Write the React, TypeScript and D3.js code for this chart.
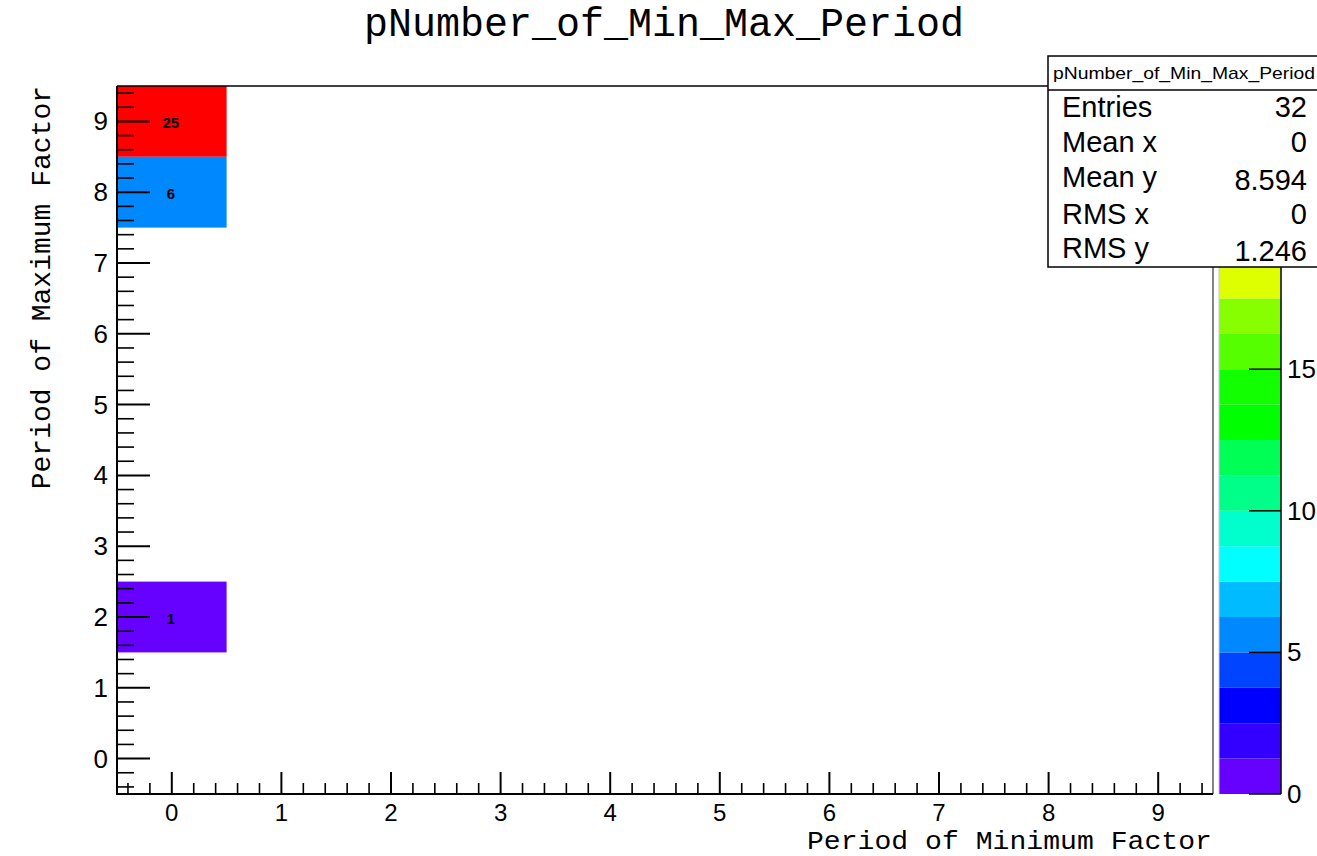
import * as d3 from 'd3';

// histogram bins (x = period of min factor, y = period of max factor)
const binX = [0, 0, 0];
const binY = [9, 8, 2];
const binCount = [25, 6, 1];

const xTicks = [0, 1, 2, 3, 4, 5, 6, 7, 8, 9];
const yTicks = [0, 1, 2, 3, 4, 5, 6, 7, 8, 9];
// 20 and 25 sit under the stats box in the original, so only these show
const zTicks = [0, 5, 10, 15];

// 20 contour levels, bottom to top
const paletteColors = [
  '#6600ff', '#3300ff', '#0000ff', '#0044ff', '#0088ff',
  '#00bbff', '#00ffff', '#00ffcc', '#00ff88', '#00ff55',
  '#00ff00', '#11ff00', '#55ff00', '#88ff00', '#ddff00',
  '#ffff00', '#ffcc00', '#ff9900', '#ff5500', '#ff0000',
];

const statsLabels = ['Entries', 'Mean x', 'Mean y', 'RMS x', 'RMS y'];
const statsValues = ['32', '0', '8.594', '0', '1.246'];

const W = 1317;
const H = 856;
const FRAME = { left: 117, right: 1213, top: 86, bottom: 794 };
const PAL = { left: 1219, right: 1281 };
const SANS = 'Liberation Sans, Arial, Helvetica, sans-serif';
const MONO = 'Liberation Mono, Courier New, monospace';

export default function App() {
  const x = d3.scaleLinear().domain([-0.5, 9.5]).range([FRAME.left, FRAME.right]);
  const y = d3.scaleLinear().domain([-0.5, 9.5]).range([FRAME.bottom, FRAME.top]);
  const z = d3.scaleLinear().domain([0, 25]).range([FRAME.bottom, FRAME.top]);
  const color = d3.scaleQuantize<string>().domain([0, 25]).range(paletteColors);

  const minor = d3.range(-0.4, 9.5, 0.2).filter((v) => Math.abs(v - Math.round(v)) > 0.01);
  const step = 25 / paletteColors.length;

  const statRowsY = [107, 142, 177, 214, 248];

  return (
    <svg
      width={W}
      height={H}
      viewBox={`0 0 ${W} ${H}`}
      style={{ position: 'absolute', left: 0, top: 0, background: '#fff' }}
    >
      <rect x={0} y={0} width={W} height={H} fill="#fff" />

      {/* title */}
      <text x={664} y={36} textAnchor="middle" fontFamily={MONO} fontSize={40}>
        pNumber_of_Min_Max_Period
      </text>

      {/* cells */}
      {binCount.map((c, i) => (
        <g key={i}>
          <rect
            x={x(binX[i] - 0.5)}
            y={y(binY[i] + 0.5)}
            width={x(binX[i] + 0.5) - x(binX[i] - 0.5)}
            height={y(binY[i] - 0.5) - y(binY[i] + 0.5)}
            fill={color(Math.min(c, 24.99))}
          />
          <text
            x={x(binX[i]) - 1}
            y={y(binY[i]) + 1}
            textAnchor="middle"
            dominantBaseline="central"
            fontFamily={SANS}
            fontWeight="bold"
            fontSize={15}
          >
            {c}
          </text>
        </g>
      ))}

      {/* frame */}
      <line x1={FRAME.left} x2={FRAME.right} y1={FRAME.top} y2={FRAME.top} stroke="#000" strokeWidth={1.5} />
      <line x1={FRAME.right} x2={FRAME.right} y1={FRAME.top} y2={FRAME.bottom} stroke="#333" strokeWidth={1.2} />
      <line x1={FRAME.left} x2={FRAME.left} y1={FRAME.top} y2={FRAME.bottom + 1} stroke="#000" strokeWidth={2} />
      <line x1={FRAME.left - 1} x2={FRAME.right} y1={FRAME.bottom} y2={FRAME.bottom} stroke="#000" strokeWidth={2} />

      {/* x axis ticks */}
      {xTicks.map((t) => (
        <g key={`xt${t}`}>
          <line x1={x(t)} x2={x(t)} y1={FRAME.bottom} y2={FRAME.bottom - 22} stroke="#000" strokeWidth={2} />
          <text x={x(t)} y={821} textAnchor="middle" fontFamily={SANS} fontSize={24}>
            {t}
          </text>
        </g>
      ))}
      {minor.map((t, i) => (
        <line key={`xm${i}`} x1={x(t)} x2={x(t)} y1={FRAME.bottom} y2={FRAME.bottom - 11} stroke="#000" strokeWidth={1.6} />
      ))}

      {/* y axis ticks */}
      {yTicks.map((t) => (
        <g key={`yt${t}`}>
          <line x1={FRAME.left} x2={FRAME.left + 33} y1={y(t)} y2={y(t)} stroke="#000" strokeWidth={2} />
          <text x={108} y={y(t)} textAnchor="end" dominantBaseline="central" fontFamily={SANS} fontSize={26}>
            {t}
          </text>
        </g>
      ))}
      {minor.map((t, i) => (
        <line key={`ym${i}`} x1={FRAME.left} x2={FRAME.left + 17} y1={y(t)} y2={y(t)} stroke="#000" strokeWidth={1.6} />
      ))}

      {/* axis titles */}
      <text
        x={1212}
        y={849}
        textAnchor="end"
        fontFamily={MONO}
        fontSize={26}
        textLength={405}
        lengthAdjust="spacingAndGlyphs"
      >
        Period of Minimum Factor
      </text>
      <text
        transform={`translate(50, ${FRAME.top}) rotate(-90)`}
        textAnchor="end"
        fontFamily={MONO}
        fontSize={28}
      >
        Period of Maximum Factor
      </text>

      {/* palette */}
      {paletteColors.map((c, i) => (
        <rect
          key={`p${i}`}
          x={PAL.left}
          y={z((i + 1) * step)}
          width={PAL.right - PAL.left}
          height={z(i * step) - z((i + 1) * step)}
          fill={c}
        />
      ))}
      <line x1={PAL.left} x2={PAL.left} y1={FRAME.top} y2={FRAME.bottom} stroke="#c8c0f0" strokeWidth={1} />
      <line x1={PAL.right} x2={PAL.right} y1={FRAME.top} y2={FRAME.bottom} stroke="#000" strokeWidth={1.5} />
      {zTicks.map((t) => (
        <g key={`zt${t}`}>
          <line x1={PAL.right - 32} x2={PAL.right} y1={z(t)} y2={z(t)} stroke="#000" strokeWidth={1.5} />
          <text x={1287} y={z(t)} dominantBaseline="central" fontFamily={SANS} fontSize={26}>
            {t}
          </text>
        </g>
      ))}

      {/* stats box */}
      <rect x={1048} y={56} width={290} height={211} fill="#fff" stroke="#000" strokeWidth={1.5} />
      <line x1={1048} x2={W} y1={90} y2={90} stroke="#000" strokeWidth={1.5} />
      <text x={1053} y={79} fontFamily={SANS} fontSize={17} textLength={262} lengthAdjust="spacingAndGlyphs">
        pNumber_of_Min_Max_Period
      </text>
      {statsLabels.map((l, i) => (
        <g key={l}>
          <text x={1062} y={statRowsY[i]} dominantBaseline="central" fontFamily={SANS} fontSize={29}>
            {l}
          </text>
          <text x={1307} y={statRowsY[i] + (i === 2 || i === 4 ? 3 : 0)} textAnchor="end" dominantBaseline="central" fontFamily={SANS} fontSize={29}>
            {statsValues[i]}
          </text>
        </g>
      ))}
    </svg>
  );
}
